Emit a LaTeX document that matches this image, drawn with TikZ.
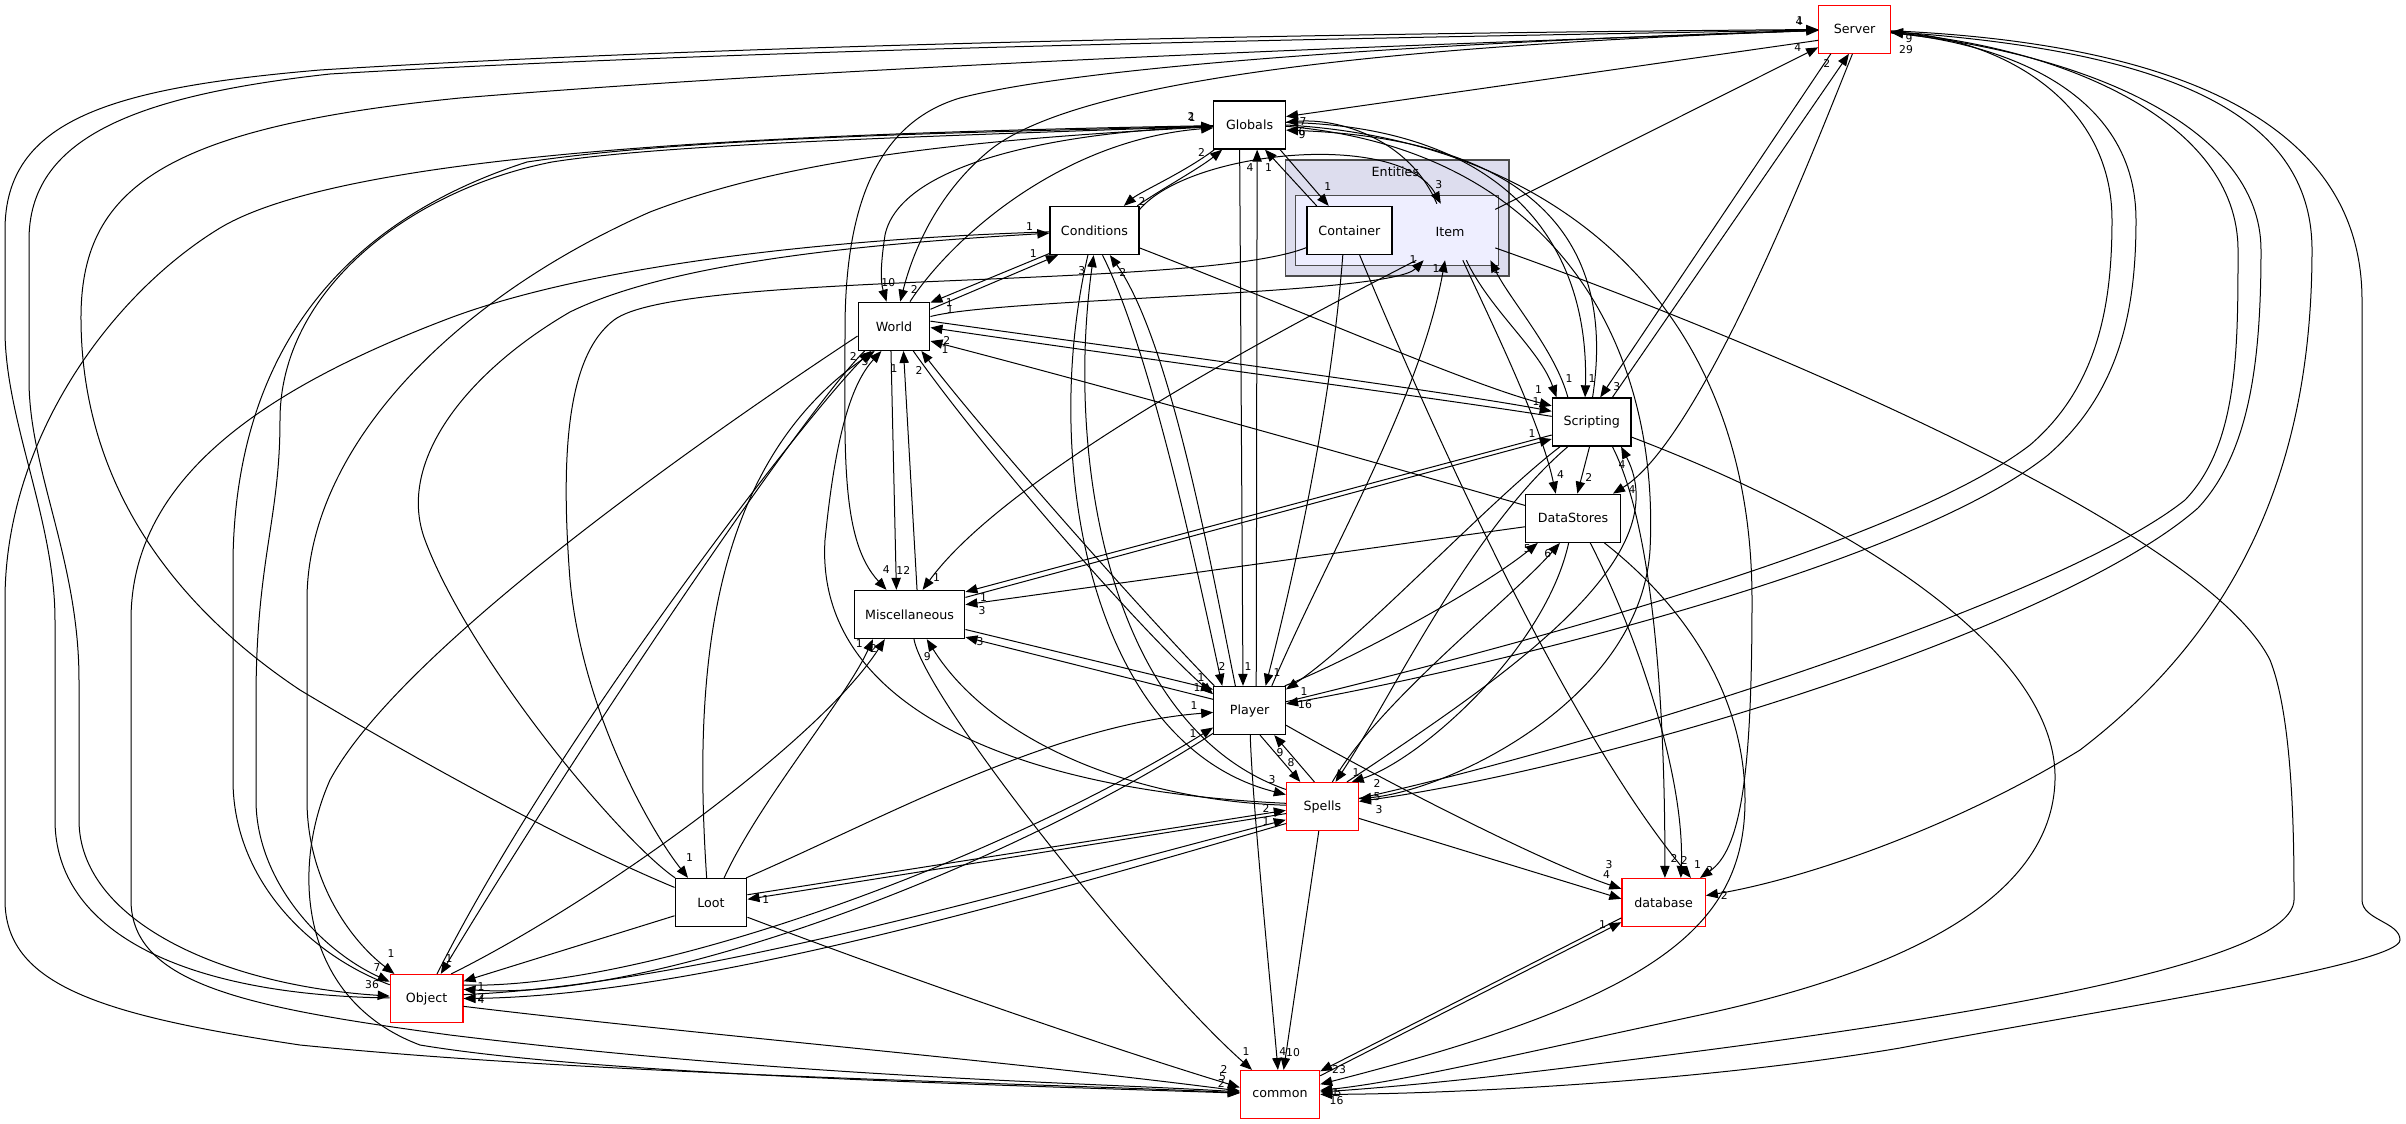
\documentclass[tikz,border=0pt]{standalone}
\usepackage{fontspec}
\setmainfont{DejaVu Sans}
\usetikzlibrary{arrows.meta}
\definecolor{clout}{HTML}{DDDDEE}
\definecolor{clin}{HTML}{EEEEFF}
\begin{document}
\begin{tikzpicture}[x=0.75pt,y=-0.75pt,
  box/.style={draw=black,line width=1pt,fill=white,minimum height=36pt,inner sep=0pt,font=\fontsize{9.5pt}{11pt}\selectfont},
  redbox/.style={box,draw=red,line width=0.9pt},
  lbl/.style={inner sep=0pt,font=\fontsize{8.1pt}{9pt}\selectfont},
  dep/.style={draw=black,line width=0.75pt,-{Triangle[length=9pt,width=7pt]}},
  clbox/.style={draw=black!70,line width=1.1pt,inner sep=0pt}]
\useasboundingbox (0,0) rectangle (2406,1124);
\fill[white] (0,0) rectangle (2406,1124);
% clusters
\node[clbox,fill=clout,minimum width=167.6pt,minimum height=87pt] (entO) at (1397.2,218) {};
\node[clbox,fill=clin,minimum width=152.3pt,minimum height=52.5pt] (entI) at (1397.2,230.7) {};
\node[inner sep=0pt,font=\fontsize{9.5pt}{11pt}\selectfont] (entL) at (1395.4,171.7) {Entities};
% nodes
\node[redbox,minimum width=53.7pt] (S) at (1854.6,29.2) {Server};
\node[box,minimum width=53.7pt] (G) at (1249.6,125) {Globals};
\node[box,minimum width=63.75pt] (Ct) at (1349.4,230.5) {Container};
\node[minimum width=67.5pt,minimum height=42pt,inner sep=0pt,font=\fontsize{9.5pt}{11pt}\selectfont] (It) at (1450,232) {Item};
\node[box,minimum width=66.75pt] (Cd) at (1094.5,230.5) {Conditions};
\node[box,minimum width=53.7pt] (W) at (894,326.3) {World};
\node[box,minimum width=59pt] (Sc) at (1591.7,422) {Scripting};
\node[box,minimum width=71pt] (D) at (1573,518.3) {DataStores};
\node[box,minimum width=82.9pt] (M) at (909.5,614.5) {Miscellaneous};
\node[box,minimum width=53.7pt] (P) at (1249.6,710.5) {Player};
\node[redbox,minimum width=54pt] (Sp) at (1322.4,806.5) {Spells};
\node[box,minimum width=53.7pt] (L) at (711,902.5) {Loot};
\node[redbox,minimum width=62.5pt] (db) at (1663.6,902.5) {database};
\node[redbox,minimum width=54.5pt] (O) at (426.6,998.5) {Object};
\node[redbox,minimum width=59.4pt] (C) at (1280,1094.5) {common};

% ---- far-left long connectors ----
\draw[dep] (O) .. controls (180,995) and (55,930) .. (55,820) -- (55,620) .. controls (55,520) and (5,420) .. (5,330) -- (5,230) .. controls (5,120) and (110,88) .. (320,70) .. controls (800,40) and (1500,32) .. (S);
\draw[dep] (S) .. controls (1500,36) and (800,46) .. (330,74) .. controls (130,96) and (29,140) .. (29,240) -- (29,380) .. controls (29,470) and (79,560) .. (79,680) -- (79,820) .. controls (79,920) and (220,985) .. (O);
\draw[dep] (L) .. controls (560,840) and (400,750) .. (300,690) .. controls (180,610) and (82,490) .. (81,320) .. controls (80,190) and (160,128) .. (460,98) .. controls (900,62) and (1500,42) .. (S);
\draw[dep] (G) .. controls (800,133) and (350,150) .. (220,228) .. controls (110,295) and (5,440) .. (5,600) -- (5,900) .. controls (5,985) and (100,1015) .. (300,1045) .. controls (600,1075) and (1000,1082) .. (C);
\draw[dep] (Cd) .. controls (850,238) and (600,262) .. (450,318) .. controls (260,390) and (131,480) .. (131,620) -- (131,900) .. controls (131,985) and (250,1008) .. (450,1035) .. controls (800,1078) and (1100,1083) .. (C);
\draw[dep] (L) .. controls (620,840) and (470,660) .. (425,540) .. controls (395,460) and (470,370) .. (570,312) .. controls (680,258) and (900,242) .. (Cd);
\draw[dep] (G) .. controls (950,140) and (780,162) .. (650,212) .. controls (450,300) and (307,450) .. (307,600) -- (307,800) .. controls (307,880) and (350,940) .. (O);
\draw[dep] (G) .. controls (900,137) and (660,145) .. (552,162) .. controls (410,190) and (280,290) .. (280,420) .. controls (280,520) and (256,560) .. (256,700) -- (256,800) .. controls (256,880) and (320,950) .. (O);
\draw[dep] (O) .. controls (310,955) and (233,880) .. (233,780) -- (233,560) .. controls (235,400) and (300,235) .. (527,162) .. controls (700,136) and (1000,132) .. (G);
\draw[dep] (W.-140) .. controls (805,410) and (585,735) .. (O.60);
\draw[dep] (O.67) .. controls (560,730) and (815,405) .. (W.-133);
\draw[dep] (W.-165) .. controls (700,440) and (400,650) .. (330,780) .. controls (290,870) and (300,1000) .. (420,1045) .. controls (600,1075) and (1000,1085) .. (C);

% ---- into common ----
\draw[dep] (M) .. controls (925,700) and (1150,980) .. (C);
\draw[dep] (P) .. controls (1252,800) and (1272,1000) .. (C);
\draw[dep] (Sp) -- (C);
\draw[dep] (db.200) -- (C.30);
\draw[dep] (C.25) -- (db.205);
\draw[dep] (It) .. controls (1700,320) and (2200,520) .. (2270,660) .. controls (2294,720) and (2294,850) .. (2294,900) .. controls (2292,960) and (2000,1015) .. (1604,1063) .. controls (1450,1083) and (1350,1090) .. (C);
\draw[dep] (S) .. controls (2150,42) and (2362,110) .. (2362,300) -- (2362,900) .. controls (2362,920) and (2400,922) .. (2400,940) .. controls (2400,965) and (2100,1010) .. (1900,1048) .. controls (1700,1082) and (1450,1094) .. (C);
\draw[dep] (Sc) .. controls (1850,520) and (2058,650) .. (2055,780) .. controls (2052,900) and (1900,972) .. (1700,1015) .. controls (1500,1058) and (1400,1082) .. (C);
\draw[dep] (D) .. controls (1690,610) and (1745,700) .. (1745,800) .. controls (1745,930) and (1650,1000) .. (C);
\draw[dep] (L.-22) .. controls (900,975) and (1100,1045) .. (C.170);
\draw[dep] (O.-12) .. controls (700,1035) and (1000,1060) .. (C.175);

% ---- Server ----
\draw[dep] (It) -- (S);
\draw[dep] (Sc.50) -- (S.257);
\draw[dep] (S.226) -- (Sc.71);
\draw[dep] (S.265) .. controls (1810,160) and (1700,440) .. (D);
\draw[dep] (P) .. controls (1500,650) and (1900,545) .. (2030,445) .. controls (2100,385) and (2112,300) .. (2112,220) .. controls (2112,100) and (2000,40) .. (S);
\draw[dep] (S) .. controls (2020,45) and (2136,100) .. (2136,220) .. controls (2136,310) and (2120,392) .. (2048,455) .. controls (1910,565) and (1500,665) .. (P);
\draw[dep] (Sp) .. controls (1600,745) and (2060,600) .. (2185,500) .. controls (2238,445) and (2238,350) .. (2238,250) .. controls (2238,120) and (2060,48) .. (S);
\draw[dep] (S) .. controls (2080,52) and (2261,125) .. (2261,250) .. controls (2261,360) and (2250,452) .. (2198,508) .. controls (2065,625) and (1620,765) .. (Sp);
\draw[dep] (S) .. controls (2160,50) and (2312,110) .. (2312,250) .. controls (2312,450) and (2250,620) .. (2080,750) .. controls (1950,830) and (1800,880) .. (db);
\draw[dep] (S) .. controls (1500,40) and (1100,62) .. (960,98) .. controls (880,122) and (845,200) .. (845,330) .. controls (845,450) and (840,540) .. (M);
\draw[dep] (S) .. controls (1400,45) and (1080,78) .. (990,150) .. controls (935,195) and (912,255) .. (W);
\draw[dep] (S.197) -- (G.13);

% ---- Globals ----
\draw[dep] (G) .. controls (1050,132) and (900,165) .. (885,235) .. controls (881,262) and (880,280) .. (W);
\draw[dep] (W) .. controls (950,240) and (1060,140) .. (G);
\draw[dep] (G.-39) -- (Ct.130);
\draw[dep] (Ct.143) -- (G.-58);
\draw[dep] (Cd.30) .. controls (1160,190) and (1200,168) .. (G.222);
\draw[dep] (G.215) .. controls (1185,172) and (1140,192) .. (Cd.40);
\draw[dep] (Cd.25) .. controls (1190,150) and (1400,130) .. (It.108);
\draw[dep] (It.115) .. controls (1410,140) and (1340,118) .. (G);
\draw[dep] (P.75) -- (G.-73);
\draw[dep] (G.-112) -- (P.105);
\draw[dep] (G.4) .. controls (1490,126) and (1590,230) .. (Sc.105);
\draw[dep] (Sc.88) .. controls (1620,220) and (1505,138) .. (G.-8);
\draw[dep] (G.-2) .. controls (1560,150) and (1660,350) .. (1650,550) .. controls (1640,700) and (1450,790) .. (Sp.12);
\draw[dep] (G.0) .. controls (1550,140) and (1752,300) .. (1752,600) .. controls (1752,780) and (1740,850) .. (db.34);

% ---- Scripting ----
\draw[dep] (It.-60) .. controls (1490,310) and (1540,350) .. (Sc.145);
\draw[dep] (Sc.134) .. controls (1555,350) and (1510,300) .. (It.-35);
\draw[dep] (W.8) .. controls (1150,352) and (1450,392) .. (Sc.165);
\draw[dep] (Sc.172) .. controls (1450,400) and (1150,360) .. (W.-2);
\draw[dep] (Cd) .. controls (1300,310) and (1470,385) .. (Sc.158);
\draw[dep] (Sc.198) -- (M.22);
\draw[dep] (M.17) -- (Sc.203);
\draw[dep] (D.190) -- (M.10);
\draw[dep] (D.165) .. controls (1350,455) and (1100,385) .. (W.-22);
\draw[dep] (Sc.218) .. controls (1490,500) and (1360,640) .. (P.30);
\draw[dep] (Sc.226) .. controls (1470,530) and (1390,700) .. (Sp.62);
\draw[dep] (Sp.45) .. controls (1500,680) and (1680,560) .. (Sc.-40);
\draw[dep] (Sc.-95) -- (D.80);
\draw[dep] (It) .. controls (1490,320) and (1540,420) .. (D.125);
\draw[dep] (Sc.-50) .. controls (1660,540) and (1665,760) .. (db.87);
\draw[dep] (Ct) .. controls (1420,400) and (1560,720) .. (db.42);
\draw[dep] (D.-55) .. controls (1640,640) and (1685,780) .. (db.55);

% ---- DataStores ----
\draw[dep] (P.35) .. controls (1350,660) and (1480,590) .. (D.-145);
\draw[dep] (Sp.68) .. controls (1380,700) and (1510,600) .. (D.-118);
\draw[dep] (D.-100) .. controls (1545,650) and (1420,760) .. (Sp.40);

% ---- Player ----
\draw[dep] (Cd.-72) .. controls (1150,350) and (1195,560) .. (P.138);
\draw[dep] (P.120) .. controls (1210,560) and (1170,340) .. (Cd.-58);
\draw[dep] (Ct.-105) .. controls (1330,420) and (1290,590) .. (P.57);
\draw[dep] (P.48) .. controls (1330,550) and (1420,400) .. (It.-100);
\draw[dep] (W.25) -- (Cd.214);
\draw[dep] (Cd.207) -- (W.33);
\draw[dep] (W.15) .. controls (1000,298) and (1390,295) .. (It.-133);
\draw[dep] (M.-15) -- (P.150);
\draw[dep] (P.163) -- (M.-22);
\draw[dep] (W.-52) .. controls (990,460) and (1150,640) .. (P.156);
\draw[dep] (P.145) .. controls (1150,620) and (990,440) .. (W.-42);
\draw[dep] (L.35) .. controls (880,820) and (1050,725) .. (P.183);
\draw[dep] (O.20) .. controls (650,990) and (1000,860) .. (P.205);
\draw[dep] (P.212) .. controls (1000,872) and (650,1002) .. (O.14);
\draw[dep] (P.-67) -- (Sp.132);
\draw[dep] (Sp.108) -- (P.-45);
\draw[dep] (P.-22) .. controls (1400,790) and (1550,865) .. (db.162);
\draw[dep] (Sp.-18) -- (db.175);

% ---- Spells ----
\draw[dep] (Cd.-105) .. controls (1040,460) and (1090,745) .. (Sp.162);
\draw[dep] (Sp.155) .. controls (1110,728) and (1065,460) .. (Cd.-92);
\draw[dep] (L.12) -- (Sp.186);
\draw[dep] (Sp.191) -- (L.5);
\draw[dep] (O.6) .. controls (700,985) and (1050,880) .. (Sp.200);
\draw[dep] (Sp.205) .. controls (1050,892) and (700,996) .. (O.0);
\draw[dep] (Sp.178) .. controls (1130,800) and (990,740) .. (M.-55);
\draw[dep] (Sp.175) .. controls (1000,790) and (815,700) .. (825,540) .. controls (835,440) and (850,385) .. (W.-117);

% ---- Loot / Object / Miscellaneous ----
\draw[dep] (It.-140) .. controls (1300,320) and (1010,470) .. (M.62);
\draw[dep] (Ct) .. controls (1200,290) and (680,270) .. (614,320) .. controls (568,355) and (560,450) .. (570,580) .. controls (582,710) and (650,830) .. (L.133);
\draw[dep] (L.62) .. controls (760,800) and (845,700) .. (M.-146);
\draw[dep] (O.45) .. controls (600,900) and (820,740) .. (M.-135);
\draw[dep] (L.200) -- (O.25);
\draw[dep] (L.100) .. controls (695,700) and (700,470) .. (W.-128);
\draw[dep] (W.-97) -- (M.118);
\draw[dep] (M.73) -- (W.-69);

% ---- labels ----
\node[lbl] (a1) at (1799,21.7) {4};
\node[lbl] (a2) at (1800,21) {1};
\node[lbl] (a3) at (1797.7,47.7) {4};
\node[lbl] (a4) at (1826.7,63.3) {2};
\node[lbl] (a5) at (1909,39) {9};
\node[lbl] (a6) at (1906,50) {29};
\node[lbl] (b1) at (1191,116) {2};
\node[lbl] (b2) at (1192,118) {1};
\node[lbl] (b3) at (1303,121.7) {7};
\node[lbl] (b4) at (1302,132) {6};
\node[lbl] (b5) at (1302,135) {9};
\node[lbl] (b6) at (1201.5,152) {2};
\node[lbl] (b7) at (1250,167.7) {4};
\node[lbl] (b8) at (1268.5,167.7) {1};
\node[lbl] (c1) at (1327.8,186.7) {1};
\node[lbl] (c2) at (1438.8,185) {3};
\node[lbl] (c3) at (1413,259.3) {1};
\node[lbl] (c4) at (1436,268.3) {1};
\node[lbl] (c5) at (1496.6,270) {1};
\node[lbl] (d1) at (1142,201.7) {2};
\node[lbl] (d2) at (1029.6,226.7) {1};
\node[lbl] (d3) at (1033.2,254) {1};
\node[lbl] (d4) at (1081.8,270.7) {3};
\node[lbl] (d5) at (1122.7,272.7) {2};
\node[lbl] (w1) at (888.3,282.7) {10};
\node[lbl] (w2) at (914.3,289.3) {2};
\node[lbl] (w3) at (949.3,302.7) {1};
\node[lbl] (w4) at (950,310) {1};
\node[lbl] (w5) at (946.7,340) {2};
\node[lbl] (w6) at (945,350) {1};
\node[lbl] (w7) at (853.3,356.7) {2};
\node[lbl] (w8) at (865,361.7) {3};
\node[lbl] (w9) at (894,368.3) {1};
\node[lbl] (w10) at (919,370) {2};
\node[lbl] (s1) at (1538.6,390) {1};
\node[lbl] (s2) at (1536,401.7) {1};
\node[lbl] (s3) at (1532,433.3) {1};
\node[lbl] (s4) at (1569,378.3) {1};
\node[lbl] (s5) at (1592,378.3) {1};
\node[lbl] (s6) at (1616.8,386.7) {3};
\node[lbl] (s7) at (1622,465) {4};
\node[lbl] (t1) at (1560.6,474.3) {4};
\node[lbl] (t2) at (1588.7,477.7) {2};
\node[lbl] (t3) at (1632,490) {4};
\node[lbl] (t4) at (1527.3,548.3) {5};
\node[lbl] (t5) at (1547.8,553.3) {6};
\node[lbl] (m1) at (886.4,570) {4};
\node[lbl] (m2) at (903.3,570) {12};
\node[lbl] (m3) at (936.5,577.3) {1};
\node[lbl] (m4) at (983.6,597.7) {1};
\node[lbl] (m5) at (982,610.7) {3};
\node[lbl] (m6) at (980,641.7) {3};
\node[lbl] (m7) at (859.3,643.3) {1};
\node[lbl] (m8) at (873.6,648.3) {2};
\node[lbl] (m9) at (927.3,656.7) {9};
\node[lbl] (p1) at (1222,666) {2};
\node[lbl] (p2) at (1248,667) {1};
\node[lbl] (p3) at (1277,673) {1};
\node[lbl] (p4) at (1201,678) {1};
\node[lbl] (p5) at (1197,688) {1};
\node[lbl] (p6) at (1194,706) {1};
\node[lbl] (p7) at (1193,734) {1};
\node[lbl] (p8) at (1304,692) {1};
\node[lbl] (p9) at (1305,705) {16};
\node[lbl] (p10) at (1280,753) {9};
\node[lbl] (q1) at (1291,763) {8};
\node[lbl] (q2) at (1272,780) {3};
\node[lbl] (q3) at (1356,773) {1};
\node[lbl] (q4) at (1377,783) {2};
\node[lbl] (q5) at (1377,797) {5};
\node[lbl] (q6) at (1379,810) {3};
\node[lbl] (q7) at (1266,808) {2};
\node[lbl] (q8) at (1266,822) {1};
\node[lbl] (r1) at (689.5,857.3) {1};
\node[lbl] (r2) at (765.7,900) {1};
\node[lbl] (u1) at (1674,858.3) {2};
\node[lbl] (u2) at (1684.3,860) {2};
\node[lbl] (u3) at (1697.6,865) {1};
\node[lbl] (u4) at (1709.9,870) {2};
\node[lbl] (u5) at (1609,865) {3};
\node[lbl] (u6) at (1606.6,875) {4};
\node[lbl] (u7) at (1724.2,895.7) {2};
\node[lbl] (u8) at (1602.5,925) {1};
\node[lbl] (o1) at (391,954) {1};
\node[lbl] (o2) at (449,959) {1};
\node[lbl] (o3) at (377,968) {7};
\node[lbl] (o4) at (372,985) {36};
\node[lbl] (o5) at (481,987) {1};
\node[lbl] (o6) at (481,997) {2};
\node[lbl] (o7) at (481,1000) {4};
\node[lbl] (k1) at (1246,1051.7) {1};
\node[lbl] (k2) at (1282.8,1051.7) {4};
\node[lbl] (k3) at (1293,1052.7) {10};
\node[lbl] (k4) at (1224,1069.3) {2};
\node[lbl] (k5) at (1222.5,1076.7) {5};
\node[lbl] (k6) at (1221.4,1083.3) {2};
\node[lbl] (k7) at (1339,1069.3) {23};
\node[lbl] (k8) at (1335,1092.7) {1};
\node[lbl] (k9) at (1338,1092.7) {5};
\node[lbl] (k10) at (1336.5,1100.7) {16};
\end{tikzpicture}
\end{document}
